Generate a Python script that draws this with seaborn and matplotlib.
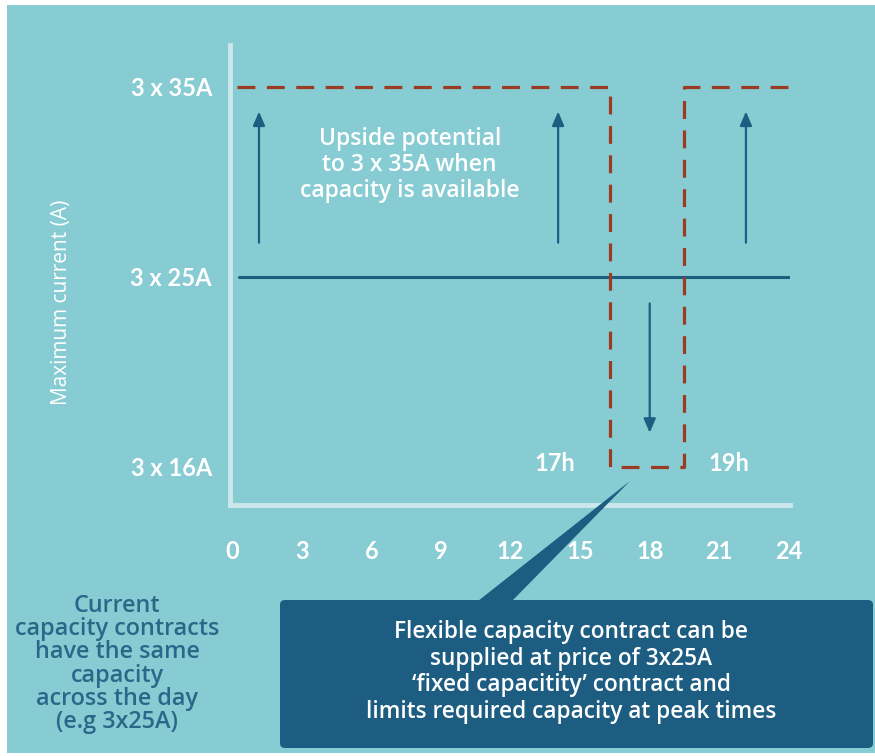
import numpy as np
import pandas as pd
import matplotlib
matplotlib.use("Agg")
import matplotlib.pyplot as plt
from matplotlib.patches import Rectangle, FancyBboxPatch, Polygon
import seaborn as sns

# ---- data -------------------------------------------------------------
hour_ticks = [0, 3, 6, 9, 12, 15, 18, 21, 24]
level_labels = ["3 x 16A", "3 x 25A", "3 x 35A"]
level_pos = [0, 1, 2]

# flexible contract envelope (hour, level index)
flex_hours = [0.2, 16.3, 16.3, 19.5, 19.5, 24.0]
flex_level = [2, 2, 0, 0, 2, 2]

# fixed contract
fixed_hours = [0.3, 24.0]
fixed_level = [1, 1]

# arrows: (hour, start level, end level)
up_arrow_hours = [1.15, 14.05, 22.15]
up_arrow_from = 1.18
up_arrow_to = 1.87
down_arrow_hour = 18.0
down_arrow_from = 0.86
down_arrow_to = 0.18

peak_start_label = "17h"
peak_end_label = "19h"

# ---- style ------------------------------------------------------------
sns.set_theme(style="white")
plt.rcParams["font.family"] = ["Open Sans", "DejaVu Sans"]

TEAL = "#87CCD3"
DARK = "#1C5D81"
RED = "#9A3B22"
AXIS = "#CBE7EB"
W, H = 875, 756

fig = plt.figure(figsize=(W / 100, H / 100), dpi=100, facecolor="white")
fig.patches.append(Rectangle((7 / W, 3 / H), (W - 7) / W, (H - 8) / H,
                             transform=fig.transFigure, facecolor=TEAL,
                             edgecolor="none", zorder=-5))

ax = fig.add_axes([230 / W, 1 - 505 / H, 560 / W, 460 / H])
ax.set_facecolor("none")
ax.set_zorder(0)

flex = pd.DataFrame({"hour": flex_hours, "level": flex_level})
fixed = pd.DataFrame({"hour": fixed_hours, "level": fixed_level})

sns.lineplot(data=fixed, x="hour", y="level", sort=False, estimator=None,
             errorbar=None, color=DARK, lw=2.2, ax=ax, zorder=2)
sns.lineplot(data=flex, x="hour", y="level", sort=False, estimator=None,
             errorbar=None, color=RED, lw=2.3, ax=ax, zorder=3)
ax.lines[-1].set_dashes([5.6, 3.6])

for h in up_arrow_hours:
    ax.annotate("", xy=(h, up_arrow_to), xytext=(h, up_arrow_from),
                arrowprops=dict(arrowstyle="-|>,head_length=0.7,head_width=0.3",
                                color=DARK, lw=1.6, shrinkA=0, shrinkB=0))
ax.annotate("", xy=(down_arrow_hour, down_arrow_to),
            xytext=(down_arrow_hour, down_arrow_from),
            arrowprops=dict(arrowstyle="-|>,head_length=0.7,head_width=0.3",
                            color=DARK, lw=1.6, shrinkA=0, shrinkB=0))

ax.set_xlim(-0.1, 24.05)
ax.set_ylim(-0.2, 2.22)
tick_font = dict(family=["Lato", "DejaVu Sans"], fontsize=17,
                 fontweight="bold", color="white")
ax.set_xticks(hour_ticks)
ax.set_xticklabels([str(h) for h in hour_ticks], **tick_font)
ax.set_yticks(level_pos)
ax.set_yticklabels(level_labels, **tick_font)
ax.set_xlabel("")
ax.set_ylabel("")
ax.tick_params(axis="x", length=0, pad=25)
ax.tick_params(axis="y", length=0, pad=13)

for side in ("top", "right"):
    ax.spines[side].set_visible(False)
for side in ("left", "bottom"):
    ax.spines[side].set_color(AXIS)
    ax.spines[side].set_linewidth(3.5)

# labels inside the plot
ax.text(7.65, 1.59, "Upside potential\nto 3 x 35A when\ncapacity is available",
        ha="center", va="center", color="white", fontsize=16.5,
        fontweight="semibold", linespacing=1.1)
ax.text(13.9, 0.02, peak_start_label, ha="center", va="center", **tick_font)
ax.text(21.4, 0.02, peak_end_label, ha="center", va="center", **tick_font)

fig.text(62 / W, 1 - 302 / H, "Maximum current (A)", rotation=90,
         ha="center", va="center", color="white", fontsize=15)

fig.text(117 / W, 1 - 664 / H,
         "Current\ncapacity contracts\nhave the same\ncapacity\nacross the day\n(e.g 3x25A)",
         ha="center", va="center", color="#2A6788", fontsize=16.8,
         fontweight="semibold", linespacing=0.95)

# callout
fig.patches.append(FancyBboxPatch((280 / W, 1 - 748 / H), 593 / W, 148 / H,
                                  boxstyle="round,pad=0,rounding_size=0.006",
                                  transform=fig.transFigure, facecolor=DARK,
                                  edgecolor="none", zorder=1))
fig.patches.append(Polygon([(478 / W, 1 - 601 / H), (512 / W, 1 - 601 / H),
                            (630 / W, 1 - 481 / H)], closed=True,
                           transform=fig.transFigure, facecolor=DARK,
                           edgecolor="none", zorder=1))
fig.text(571 / W, 1 - 672 / H,
         "Flexible capacity contract can be\nsupplied at price of 3x25A\n"
         "\u2018fixed capacitity\u2019 contract and\nlimits required capacity at peak times",
         ha="center", va="center", color="white", fontsize=16.3,
         fontweight="semibold", linespacing=1.13, zorder=5)

fig.savefig("out.png", dpi=100, facecolor="white")
